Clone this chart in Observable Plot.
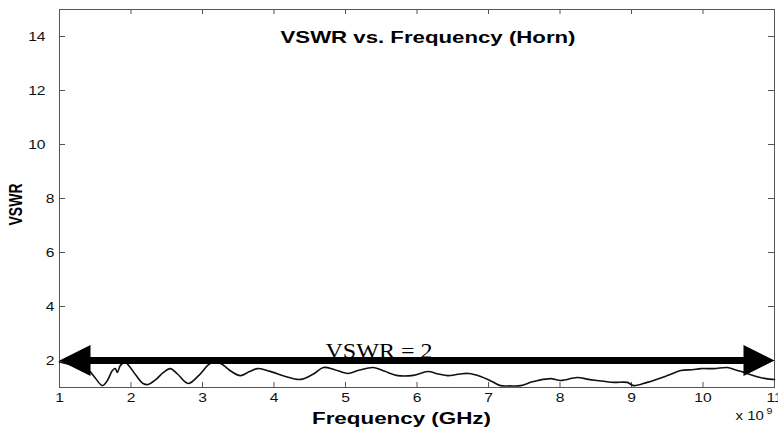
<!DOCTYPE html>
<html><head><meta charset="utf-8">
<script src="https://cdn.jsdelivr.net/npm/d3@7"></script>
<script src="https://cdn.jsdelivr.net/npm/@observablehq/plot@0.6"></script>
<style>html,body{margin:0;padding:0;background:#fff;overflow:hidden}</style>
</head><body><div id="chart"></div>
<script>
// ---- data ----
const freqGHz = [1.0, 1.15, 1.3, 1.41, 1.5, 1.60, 1.67, 1.74, 1.78, 1.81, 1.85, 1.92, 1.97, 2.07, 2.17, 2.24, 2.35, 2.45, 2.55, 2.65, 2.80, 2.95, 3.11, 3.25, 3.40, 3.53, 3.65, 3.77, 3.88, 3.99, 4.15, 4.37, 4.55, 4.69, 4.85, 5.03, 5.2, 5.39, 5.55, 5.73, 5.95, 6.15, 6.30, 6.43, 6.60, 6.72, 6.89, 7.05, 7.17, 7.30, 7.45, 7.6, 7.69, 7.87, 8.01, 8.24, 8.40, 8.52, 8.75, 8.94, 9.03, 9.22, 9.50, 9.69, 9.85, 9.97, 10.15, 10.34, 10.45, 10.57, 10.80, 10.97, 11.0];
const vswr = [1.95, 1.85, 1.75, 1.63, 1.35, 1.07, 1.26, 1.63, 1.70, 1.56, 1.81, 1.93, 1.81, 1.45, 1.15, 1.11, 1.30, 1.55, 1.70, 1.50, 1.15, 1.45, 1.89, 1.89, 1.60, 1.44, 1.58, 1.70, 1.65, 1.56, 1.42, 1.30, 1.50, 1.74, 1.66, 1.52, 1.65, 1.74, 1.60, 1.44, 1.45, 1.59, 1.50, 1.44, 1.50, 1.52, 1.41, 1.22, 1.07, 1.06, 1.07, 1.20, 1.26, 1.33, 1.26, 1.37, 1.30, 1.26, 1.19, 1.19, 1.07, 1.19, 1.44, 1.63, 1.66, 1.70, 1.70, 1.74, 1.66, 1.56, 1.37, 1.30, 1.30];
const xTicks = [1, 2, 3, 4, 5, 6, 7, 8, 9, 10, 11];
const yTicks = [2, 4, 6, 8, 10, 12, 14];
const xDomain = [1, 11];
const yDomain = [1, 15];
const threshold = [2];
const titleText = ["VSWR vs. Frequency (Horn)"];
const xLabelText = ["Frequency (GHz)"];
const yLabelText = ["VSWR"];
const thresholdLabel = ["VSWR = 2"];
const exponentBase = ["x 10"];
const exponentPower = ["9"];

// ---- chart ----
const data = freqGHz.map((f, i) => ({f, v: vswr[i]}));
const labelRows = thresholdLabel.map((t, i) => ({t, v: threshold[i]}));
const W = 778, H = 429, mL = 59, mR = 4, mT = 9, mB = 42;
const innerW = W - mL - mR, innerH = H - mT - mB;
const sans = "'Liberation Sans', Arial, Helvetica, sans-serif";
const serif = "'Liberation Serif', 'Times New Roman', serif";
const axisCol = "#555";

const headRight = {draw(c) { c.moveTo(0, 0); c.lineTo(-31, -15.5); c.lineTo(-31, 15.5); c.closePath(); }};
const headLeft = {draw(c) { c.moveTo(0, 0); c.lineTo(31, -15.5); c.lineTo(31, 15.5); c.closePath(); }};

const plot = Plot.plot({
  width: W, height: H,
  marginLeft: mL, marginRight: mR, marginTop: mT, marginBottom: mB,
  style: {background: "#fff", fontFamily: sans, color: "#111"},
  x: {domain: xDomain, label: null},
  y: {domain: yDomain, label: null},
  marks: [
    Plot.frame({stroke: axisCol, strokeWidth: 1}),
    Plot.ruleX(xTicks.slice(1, -1), {x: d => d, insetTop: innerH - 5, stroke: axisCol}),
    Plot.ruleX(xTicks.slice(1, -1), {x: d => d, insetBottom: innerH - 5, stroke: axisCol}),
    Plot.ruleY(yTicks, {y: d => d, insetRight: innerW - 6, stroke: axisCol}),
    Plot.ruleY(yTicks, {y: d => d, insetLeft: innerW - 6, stroke: axisCol}),
    Plot.axisX(xTicks, {tickSize: 0, tickPadding: 6, fontSize: 12.5, tickFormat: d => String(d), label: null}),
    Plot.axisY(yTicks.filter(d => d < 10), {tickSize: 0, tickPadding: 5, fontSize: 12.5, tickFormat: d => String(d), label: null}),
    Plot.axisY(yTicks.filter(d => d >= 10), {tickSize: 0, tickPadding: 14, fontSize: 12.5, tickFormat: d => String(d), label: null}),
    Plot.line(data, {x: "f", y: "v", stroke: "#111", strokeWidth: 1.6, curve: "catmull-rom"}),
    Plot.ruleY(threshold, {y: d => d, x1: xDomain[0] + 0.25, x2: xDomain[1] - 0.25, stroke: "#000", strokeWidth: 7}),
    Plot.dot(threshold, {x: () => xDomain[0], y: d => d, symbol: headLeft, fill: "#000", stroke: "none"}),
    Plot.dot(threshold, {x: () => xDomain[1], y: d => d, symbol: headRight, fill: "#000", stroke: "none"}),
    Plot.text(labelRows, {text: "t", y: "v", frameAnchor: "middle", dx: -38, dy: -3, lineAnchor: "bottom", fontFamily: serif, fontSize: 21, fill: "#000"}),
    Plot.text(titleText, {text: d => d, frameAnchor: "top", dx: 11, dy: 33, lineAnchor: "bottom", fontWeight: "bold", fontSize: 16.7, fill: "#000"}),
    Plot.text(xLabelText, {text: d => d, frameAnchor: "bottom", dx: -15.5, dy: 36, lineAnchor: "bottom", fontWeight: "bold", fontSize: 16, fill: "#000"}),
    Plot.text(yLabelText, {text: d => d, frameAnchor: "left", rotate: -90, dx: -44, dy: 27, lineAnchor: "middle", fontWeight: "bold", fontSize: 14, fill: "#000"}),
    Plot.text(exponentBase, {text: d => d, frameAnchor: "bottom-right", textAnchor: "start", dx: -39, dy: 32, lineAnchor: "bottom", fontSize: 12, fill: "#111"}),
    Plot.text(exponentPower, {text: d => d, frameAnchor: "bottom-right", textAnchor: "start", dx: -8, dy: 26, lineAnchor: "bottom", fontSize: 8.5, fill: "#111"})
  ]
});
document.getElementById("chart").append(plot);

// horizontal stretch of lettering, as in the reference picture
const fixedWidths = {};
fixedWidths[titleText[0]] = 295;
fixedWidths[xLabelText[0]] = 179;
fixedWidths[thresholdLabel[0]] = 107;
plot.querySelectorAll("text").forEach(t => {
  const s = t.textContent;
  if (s === yLabelText[0]) {
    const tr = t.getAttribute("transform");
    t.setAttribute("transform", (tr ? tr + " " : "") + "scale(1,1.35)");
    return;
  }
  const L = t.getComputedTextLength();
  const target = fixedWidths[s] !== undefined ? fixedWidths[s] : L * 1.25;
  t.setAttribute("textLength", target);
  t.setAttribute("lengthAdjust", "spacingAndGlyphs");
});
</script>
</body></html>
